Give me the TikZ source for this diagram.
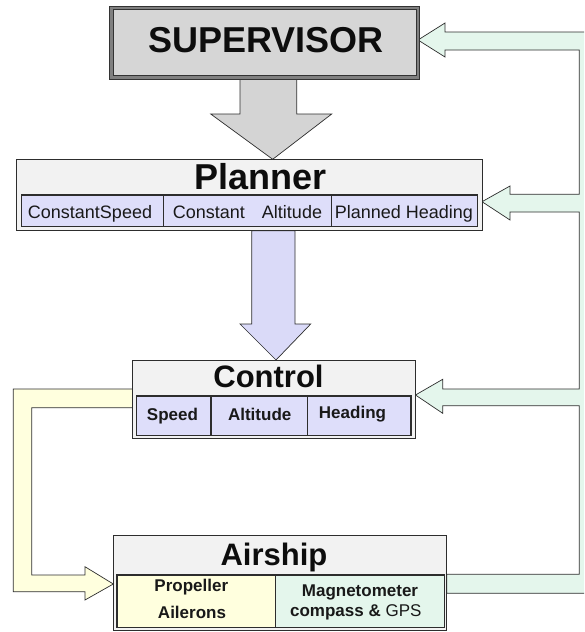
\documentclass[tikz,border=0pt]{standalone}
\usepackage{fontspec}
\setmainfont{Liberation Sans}
\usetikzlibrary{backgrounds}

\definecolor{linecol}{RGB}{45,45,45}
\definecolor{bandgray}{RGB}{242,242,242}
\definecolor{supfill}{RGB}{214,214,214}
\definecolor{grayfill}{RGB}{212,212,212}
\definecolor{lav}{RGB}{222,222,250}
\definecolor{lavarrow}{RGB}{218,218,248}
\definecolor{yellowfill}{RGB}{255,255,222}
\definecolor{mint}{RGB}{228,246,236}

\tikzset{
  box/.style={draw=linecol, line width=0.8pt, fill=bandgray, inner sep=0pt, outer sep=0pt},
  supbox/.style={draw=black!80, double=black!50, double distance=2.6pt, line width=0.9pt,
    fill=supfill, inner sep=0pt, outer sep=0pt},
  cell/.style={draw=linecol, line width=1.1pt, fill=lav, inner sep=0pt, outer sep=0pt},
  title/.style={anchor=base, inner sep=0pt, text=black!95, font=\bfseries\fontsize{31}{34}\selectfont},
  titlebig/.style={title, font=\bfseries\fontsize{36}{40}\selectfont},
  plntext/.style={anchor=base, inner sep=0pt, text=black!90, font=\fontsize{18}{20}\selectfont},
  celltext/.style={anchor=base, inner sep=0pt, text=black!90, font=\bfseries\fontsize{17}{19}\selectfont},
  blockarrow/.style={draw=linecol, line width=0.7pt, line join=miter},
}

\begin{document}
\begin{tikzpicture}[x=1pt, y=-1pt]
    \useasboundingbox (0,0) rectangle (584,632);

    % Boxes
    \node[supbox, minimum width=306.5pt, minimum height=69.3pt] (sup) at (264.75,42.65) {};
    \node[box, minimum width=465.3pt, minimum height=71.4pt] (pln) at (249.35,195) {};
    \node[box, minimum width=282.8pt, minimum height=78.3pt] (ctl) at (274.1,399.15) {};
    \node[box, minimum width=333.4pt, minimum height=95.7pt] (air) at (280,582.85) {};

    % Planner cells
    \node[cell, minimum width=141.6pt, minimum height=31.7pt] (pspd) at (92.5,210.85) {};
    \node[cell, minimum width=168.4pt, minimum height=31.7pt] (palt) at (247.5,210.85) {};
    \node[cell, minimum width=146pt, minimum height=31.7pt] (phdg) at (404.7,210.85) {};

    % Control cells
    \node[cell, minimum width=74.3pt, minimum height=39.3pt] (cspd) at (173.85,415.65) {};
    \node[cell, minimum width=96.7pt, minimum height=39.3pt] (calt) at (259.35,415.65) {};
    \node[cell, minimum width=103.3pt, minimum height=39.3pt] (chdg) at (359.35,415.65) {};

    % Airship cells
    \node[cell, fill=yellowfill, minimum width=158.7pt, minimum height=52.3pt] (aact) at (196.35,601.15) {};
    \node[cell, fill=mint, minimum width=168.6pt, minimum height=52.3pt] (asen) at (360,601.15) {};

    % Titles
    \node[titlebig] (suptxt) at (266,52.5) {SUPERVISOR};
    \node[titlebig] (plntxt) at (260.5,189) {Planner};
    \node[title] (ctltxt) at (268.5,387) {Control};
    \node[title] (airtxt) at (274,565) {Airship};

    % Cell texts
    \node[plntext] (pspdtxt) at (90,218.3) {ConstantSpeed};
    \node[plntext] (palttxt) at (247.5,218.3) {Constant\hspace{17pt}Altitude};
    \node[plntext] (phdgtxt) at (404,218.3) {Planned Heading};
    \node[celltext] (cspdtxt) at (172.5,420) {Speed};
    \node[celltext] (calttxt) at (259.7,420) {Altitude};
    \node[celltext] (chdgtxt) at (352.5,418) {Heading};
    \node[celltext] (proptxt) at (191.3,591.7) {Propeller};
    \node[celltext] (ailtxt) at (192,618.3) {Ailerons};
    \node[celltext] (magtxt) at (360,596.7) {Magnetometer};
    \node[celltext] (gpstxt) at (355.8,616) {compass \& {\mdseries GPS}};

    % Block arrows behind the boxes
    \begin{scope}[on background layer]
    \clip (0,0) rectangle (584,632);
    % supervisor to planner
    \draw[blockarrow, fill=grayfill] (240,0 |- sup.south) -- (240,114) -- (210.7,114)
        -- (272.7,0 |- pln.north) -- (331.7,114) -- (296.7,114) -- (296.7,0 |- sup.south) -- cycle;
    % planner to control
    \draw[blockarrow, fill=lavarrow] (251.7,0 |- pln.south) -- (251.7,324) -- (240,324)
        -- (276,0 |- ctl.north) -- (310.7,324) -- (295,324) -- (295,0 |- pln.south) -- cycle;
    % control to airship
    \draw[blockarrow, fill=yellowfill] (ctl.west |- 0,389) -- (13.3,389) -- (13.3,591.7)
        -- (85,591.7) -- (85,600) -- (air.west |- 0,584) -- (85,566.7) -- (85,575)
        -- (31.7,575) -- (31.7,407.7) -- (ctl.west |- 0,407.7) -- cycle;
    % sensors back to control, planner and supervisor
    \draw[blockarrow, fill=mint] (air.east |- 0,574.3) -- (579.3,574.3) -- (579.3,405.7)
        -- (442.7,405.7) -- (442.7,413.3) -- (ctl.east |- 0,395) -- (442.7,379.3) -- (442.7,389)
        -- (579.3,389) -- (579.3,212) -- (510,212) -- (510,220) -- (pln.east |- 0,201.7)
        -- (510,186) -- (510,194.3) -- (579.3,194.3) -- (579.3,50) -- (445,50) -- (445,57)
        -- (sup.east |- 0,40) -- (445,23) -- (445,32) -- (600,32) -- (600,593.3)
        -- (air.east |- 0,593.3) -- cycle;
    \end{scope}
\end{tikzpicture}
\end{document}
